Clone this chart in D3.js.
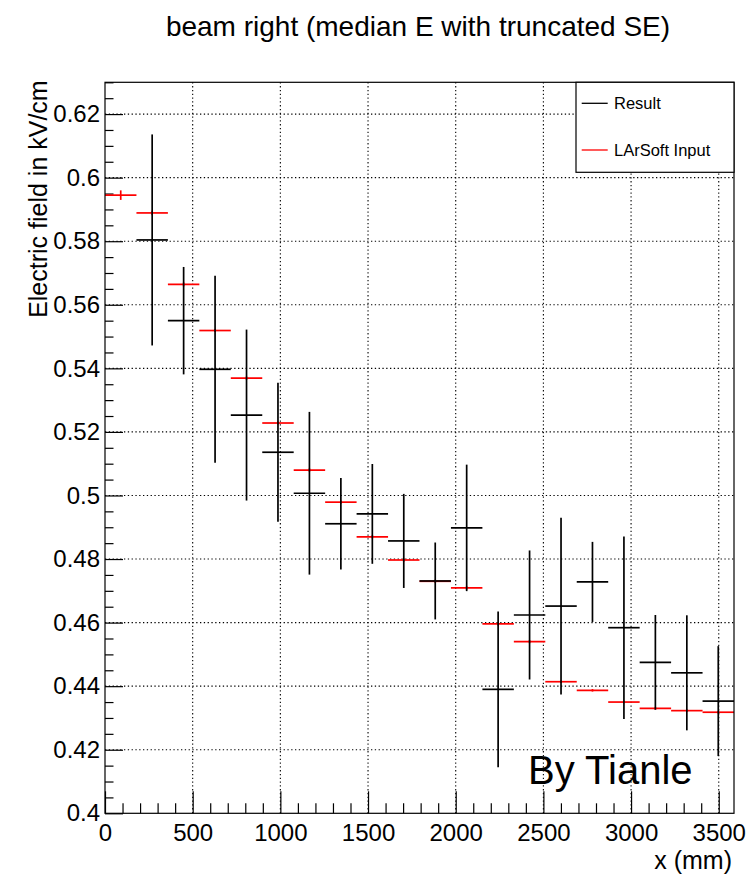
<!DOCTYPE html>
<html>
<head>
<meta charset="utf-8">
<script src="https://cdn.jsdelivr.net/npm/d3@7"></script>
<style>
  html, body { margin: 0; padding: 0; background: #fff; }
  svg { display: block; font-family: "Liberation Sans", Arial, Helvetica, sans-serif; }
</style>
</head>
<body>
<svg id="chart" width="756" height="876"></svg>
<script>
// ---------------- data ----------------
const binCenters = [89.7, 269.0, 448.4, 627.7, 807.1, 986.4, 1165.8, 1345.1, 1524.5, 1703.8,
                    1883.2, 2062.5, 2241.9, 2421.2, 2600.6, 2779.9, 2959.3, 3138.6, 3318.0, 3497.3];
const binWidth = 179.35;

// Result (black) – median E, with truncated SE errors (first bin empty)
const resultValues = [null, 0.5804, 0.5550, 0.5397, 0.5253, 0.5136, 0.5007, 0.4911, 0.4942, 0.4857,
                      0.4731, 0.4898, 0.4390, 0.4624, 0.4652, 0.4728, 0.4584, 0.4475, 0.4442, 0.4353];
const resultErrors = [null, 0.0332, 0.0169, 0.0294, 0.0269, 0.0219, 0.0256, 0.0144, 0.0157, 0.0148,
                      0.0121, 0.0199, 0.0245, 0.0203, 0.0278, 0.0126, 0.0287, 0.0149, 0.0181, 0.0173];

// LArSoft Input (red)
const inputValues = [0.5945, 0.5889, 0.5664, 0.5519, 0.5369, 0.5228, 0.5080, 0.4979, 0.4870, 0.4797,
                     0.4730, 0.4709, 0.4596, 0.4540, 0.4414, 0.4387, 0.4350, 0.4330, 0.4323, 0.4318];
const inputErrors = [0.0015, 0.0007, 0.0006, 0.0005, 0.0005, 0.0005, 0.0005, 0.0005, 0.0005, 0.0005,
                     0.0005, 0.0005, 0.0005, 0.0005, 0.0004, 0.0004, 0.0004, 0.0004, 0.0004, 0.0004];

const xTickValues = [0, 500, 1000, 1500, 2000, 2500, 3000, 3500];
const xTickLabels = ["0", "500", "1000", "1500", "2000", "2500", "3000", "3500"];
const yTickValues = [0.40, 0.42, 0.44, 0.46, 0.48, 0.50, 0.52, 0.54, 0.56, 0.58, 0.60, 0.62];
const yTickLabels = ["0.4", "0.42", "0.44", "0.46", "0.48", "0.5", "0.52", "0.54", "0.56", "0.58", "0.6", "0.62"];

const titleText = "beam right (median E with truncated SE)";
const xTitle = "x (mm)";
const yTitle = "Electric field in kV/cm";
const legendLabels = ["Result", "LArSoft Input"];
const legendColors = ["#000000", "#ff0000"];
const watermark = "By Tianle";

// ---------------- layout ----------------
const frame = { left: 105, right: 734, top: 82.3, bottom: 813.3 };
const svg = d3.select("#chart");

const x = d3.scaleLinear().domain([0, 3587]).range([frame.left, frame.right]);
const y = d3.scaleLinear().domain([0.40, 0.63]).range([frame.bottom, frame.top]);

// grid (dotted)
const grid = svg.append("g").attr("class", "grid")
  .attr("stroke", "#000").attr("stroke-width", 1.1).attr("stroke-dasharray", "1.3,2.5");
grid.selectAll("line.gx").data(xTickValues.filter(v => v > 0)).join("line")
  .attr("class", "gx")
  .attr("x1", d => x(d)).attr("x2", d => x(d))
  .attr("y1", frame.top).attr("y2", frame.bottom);
grid.selectAll("line.gy").data(yTickValues.filter(v => v > 0.40)).join("line")
  .attr("class", "gy")
  .attr("x1", frame.left).attr("x2", frame.right)
  .attr("y1", d => y(d)).attr("y2", d => y(d));

// minor tick values
const xMinor = d3.range(0, 3587, 100).filter(v => v % 500 !== 0);
const yMinor = d3.range(0, 47).map(i => 0.40 + i * 0.005).filter(v => v <= 0.63 && Math.abs((v * 100) % 2) > 0.1 && Math.abs((v * 100) % 2) < 1.9);

// axes
const fontTick = 24;
const xAxis = d3.axisBottom(x).tickValues(xTickValues)
  .tickFormat((d, i) => xTickLabels[i]).tickSizeInner(-22).tickSizeOuter(0).tickPadding(11);
const xAxisMinor = d3.axisBottom(x).tickValues(xMinor).tickFormat("").tickSizeInner(-10).tickSizeOuter(0);
const yAxis = d3.axisLeft(y).tickValues(yTickValues)
  .tickFormat((d, i) => yTickLabels[i]).tickSizeInner(-18).tickSizeOuter(0).tickPadding(5);
const yAxisMinor = d3.axisLeft(y).tickValues(yMinor).tickFormat("").tickSizeInner(-8.5).tickSizeOuter(0);

function styleAxis(g) {
  g.select(".domain").remove();
  g.selectAll("line").attr("stroke", "#000").attr("stroke-width", 1.2);
  g.selectAll("text").attr("font-size", fontTick).attr("fill", "#000")
    .attr("font-family", "'Liberation Sans', Arial, sans-serif");
}
svg.append("g").attr("transform", `translate(0,${frame.bottom})`).call(xAxis).call(styleAxis);
svg.append("g").attr("transform", `translate(0,${frame.bottom})`).call(xAxisMinor).call(styleAxis);
svg.append("g").attr("transform", `translate(${frame.left},0)`).call(yAxis).call(styleAxis);
svg.append("g").attr("transform", `translate(${frame.left},0)`).call(yAxisMinor).call(styleAxis);

// data series
function drawSeries(values, errors, color, cls) {
  const pts = values.map((v, i) => ({ xc: binCenters[i], v, e: errors[i] })).filter(d => d.v !== null);
  const g = svg.append("g").attr("class", cls).attr("stroke", color).attr("stroke-width", 1.7);
  g.selectAll("line.h").data(pts).join("line").attr("class", "h")
    .attr("x1", d => x(d.xc - binWidth / 2)).attr("x2", d => x(d.xc + binWidth / 2))
    .attr("y1", d => y(d.v)).attr("y2", d => y(d.v));
  g.selectAll("line.v").data(pts).join("line").attr("class", "v")
    .attr("x1", d => x(d.xc)).attr("x2", d => x(d.xc))
    .attr("y1", d => y(d.v - d.e)).attr("y2", d => y(d.v + d.e));
}
drawSeries(inputValues, inputErrors, legendColors[1], "input");
drawSeries(resultValues, resultErrors, legendColors[0], "result");

// frame
svg.append("rect")
  .attr("x", frame.left).attr("y", frame.top)
  .attr("width", frame.right - frame.left).attr("height", frame.bottom - frame.top)
  .attr("fill", "none").attr("stroke", "#000").attr("stroke-width", 1.2);

// watermark
svg.append("text").attr("x", 528).attr("y", 783.5)
  .attr("font-size", 40).attr("fill", "#000").text(watermark);

// legend
const lg = svg.append("g").attr("class", "legend");
lg.append("rect").attr("x", 576).attr("y", frame.top).attr("width", frame.right - 576).attr("height", 90)
  .attr("fill", "#fff").attr("stroke", "#000").attr("stroke-width", 1.2);
const legendY = [103.3, 150];
legendLabels.forEach((lab, i) => {
  lg.append("line").attr("x1", 581.7).attr("x2", 607.7).attr("y1", legendY[i]).attr("y2", legendY[i])
    .attr("stroke", legendColors[i]).attr("stroke-width", 1.3);
  lg.append("text").attr("x", 614).attr("y", legendY[i]).attr("dy", "0.35em")
    .attr("font-size", 16.5).attr("fill", "#000").text(lab);
});

// titles
svg.append("text").attr("x", 418).attr("y", 36).attr("text-anchor", "middle")
  .attr("font-size", 28).attr("fill", "#000").text(titleText);
svg.append("text").attr("x", 732).attr("y", 869).attr("text-anchor", "end")
  .attr("font-size", 25).attr("fill", "#000").text(xTitle);
svg.append("text").attr("transform", `translate(46.5,${frame.top - 2}) rotate(-90)`)
  .attr("text-anchor", "end").attr("font-size", 25).attr("fill", "#000").text(yTitle);
</script>
</body>
</html>
